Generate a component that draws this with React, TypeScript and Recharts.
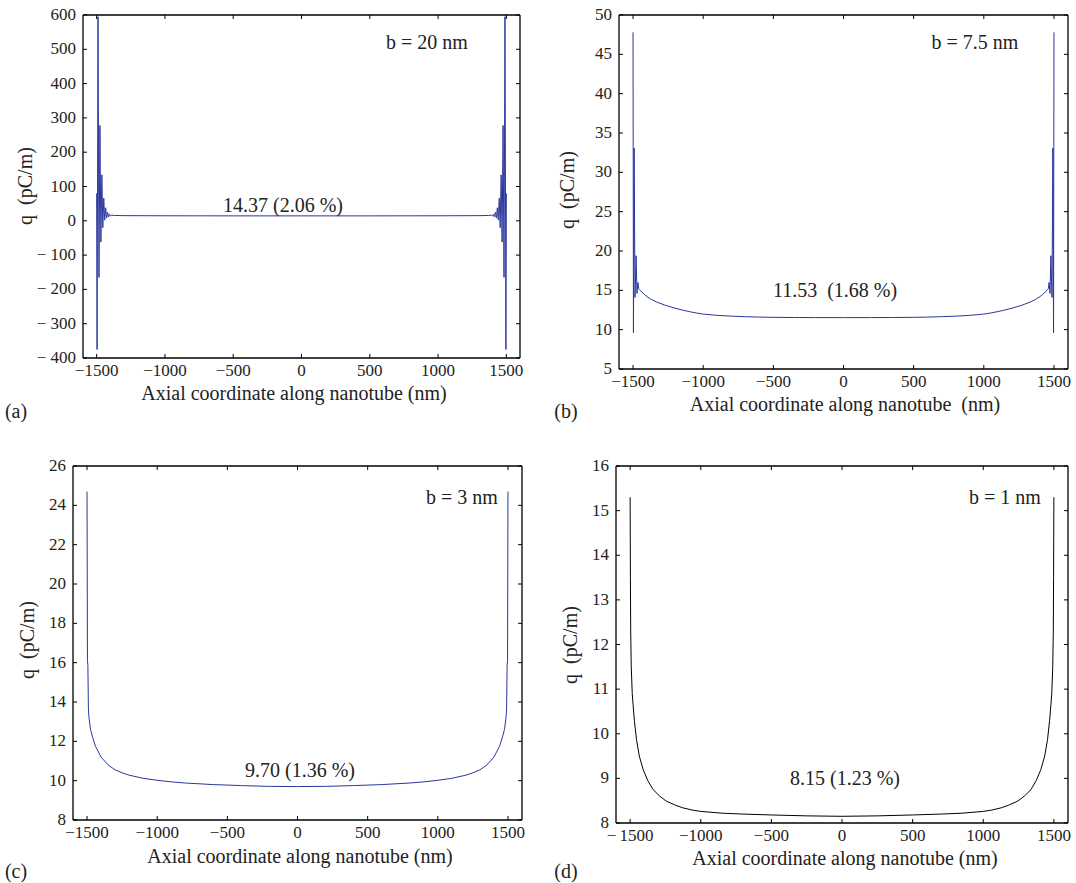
import React from "react";
import { LineChart, Line, XAxis, YAxis } from "recharts";

// shared x ticks (nm)
const xTicks = [-1500, -1000, -500, 0, 500, 1000, 1500];
const xTickLabels = ["−1500", "−1000", "−500", "0", "500", "1000", "1500"];
const xTickLabelsD = ["−\u20091500", "−1000", "−500", "0", "500", "1000", "1500"];

// (a) b = 20 nm
const aX = [-1500, -1497, -1490, -1483, -1476, -1469, -1462, -1455, -1448, -1441, -1434, -1427, -1420, -1413, -1406, -1399, -1390, -1370, -1300, -1000, -500, 0, 500, 1000, 1300, 1370, 1390, 1399, 1406, 1413, 1420, 1427, 1434, 1441, 1448, 1455, 1462, 1469, 1476, 1483, 1490, 1497, 1500];
const aQ = [80, -375, 595, -165, 278, -62, 134, -20, 66, 2, 38, 8, 25, 11, 19, 14, 16.5, 15.5, 15, 14.6, 14.4, 14.37, 14.4, 14.6, 15, 15.5, 16.5, 14, 19, 11, 25, 8, 38, 2, 66, -20, 134, -62, 278, -165, 595, -375, 80];
const aYTicks = [-400, -300, -200, -100, 0, 100, 200, 300, 400, 500, 600];
const aYLabels = ["− 400", "− 300", "− 200", "− 100", "0", "100", "200", "300", "400", "500", "600"];

// (b) b = 7.5 nm
const bX = [-1500, -1497, -1492, -1486, -1478, -1472, -1465, -1460, -1450, -1420, -1400, -1370, -1330, -1270, -1215, -1150, -1100, -1050, -1000, -900, -800, -700, -600, -500, -350, -200, 0, 200, 350, 500, 600, 700, 800, 900, 1000, 1050, 1100, 1150, 1215, 1270, 1330, 1370, 1400, 1420, 1450, 1460, 1465, 1472, 1478, 1486, 1492, 1497, 1500];
const bQ = [47.8, 9.6, 33.1, 14.1, 19.4, 14.6, 16.0, 15.2, 15.0, 14.5, 14.2, 13.85, 13.5, 13.1, 12.8, 12.5, 12.3, 12.12, 11.98, 11.82, 11.72, 11.65, 11.6, 11.57, 11.545, 11.535, 11.53, 11.535, 11.545, 11.57, 11.6, 11.65, 11.72, 11.82, 11.98, 12.12, 12.3, 12.5, 12.8, 13.1, 13.5, 13.85, 14.2, 14.5, 15.0, 15.2, 16.0, 14.6, 19.4, 14.1, 33.1, 9.6, 47.8];
const bYTicks = [5, 10, 15, 20, 25, 30, 35, 40, 45, 50];
const bYLabels = ["5", "10", "15", "20", "25", "30", "35", "40", "45", "50"];

// (c) b = 3 nm
const cX = [-1500, -1497, -1494, -1490, -1486, -1475, -1460, -1440, -1400, -1350, -1300, -1250, -1200, -1100, -1000, -900, -800, -600, -400, -200, 0, 200, 400, 600, 800, 900, 1000, 1100, 1200, 1250, 1300, 1350, 1400, 1440, 1460, 1475, 1486, 1490, 1494, 1497, 1500];
const cQ = [24.7, 16.1, 15.9, 13.6, 13.2, 12.6, 12.2, 11.75, 11.2, 10.8, 10.55, 10.4, 10.28, 10.12, 10.02, 9.94, 9.88, 9.8, 9.75, 9.71, 9.7, 9.71, 9.75, 9.8, 9.88, 9.94, 10.02, 10.12, 10.28, 10.4, 10.55, 10.8, 11.2, 11.75, 12.2, 12.6, 13.2, 13.6, 15.9, 16.1, 24.7];
const cYTicks = [8, 10, 12, 14, 16, 18, 20, 22, 24, 26];
const cYLabels = ["8", "10", "12", "14", "16", "18", "20", "22", "24", "26"];

// (d) b = 1 nm
const dX = [-1500, -1498, -1496, -1492, -1485, -1479, -1470, -1455, -1435, -1408, -1375, -1338, -1290, -1244, -1180, -1127, -1060, -1000, -850, -700, -500, -250, 0, 250, 500, 700, 850, 1000, 1060, 1127, 1180, 1244, 1290, 1338, 1375, 1408, 1435, 1455, 1470, 1479, 1485, 1492, 1496, 1498, 1500];
const dQ = [15.3, 13.5, 12.3, 11.5, 10.9, 10.65, 10.3, 9.87, 9.5, 9.2, 8.95, 8.75, 8.6, 8.49, 8.4, 8.34, 8.29, 8.26, 8.22, 8.2, 8.18, 8.16, 8.15, 8.16, 8.18, 8.2, 8.22, 8.26, 8.29, 8.34, 8.4, 8.49, 8.6, 8.75, 8.95, 9.2, 9.5, 9.87, 10.3, 10.65, 10.9, 11.5, 12.3, 13.5, 15.3];
const dYTicks = [8, 9, 10, 11, 12, 13, 14, 15, 16];
const dYLabels = ["8", "9", "10", "11", "12", "13", "14", "15", "16"];

const FONT = "'Liberation Serif', 'Times New Roman', serif";
const INK = "#222";
const BLUE = "#2b379c";
const TICK = 4;
const TICK_FONT = 17;
const axisStyle = { stroke: "#000", strokeWidth: 1.3 };

const panels = [
  { box: { l: 83, t: 15, r: 520, b: 358 }, xs: aX, qs: aQ, yTicks: aYTicks, yLabels: aYLabels, xLabels: xTickLabels, color: BLUE },
  { box: { l: 619, t: 15, r: 1068, b: 369 }, xs: bX, qs: bQ, yTicks: bYTicks, yLabels: bYLabels, xLabels: xTickLabels, color: BLUE },
  { box: { l: 73, t: 466, r: 522, b: 820 }, xs: cX, qs: cQ, yTicks: cYTicks, yLabels: cYLabels, xLabels: xTickLabels, color: BLUE },
  { box: { l: 616, t: 466, r: 1068, b: 823 }, xs: dX, qs: dQ, yTicks: dYTicks, yLabels: dYLabels, xLabels: xTickLabelsD, color: "#000" },
];

const texts = [
  { x: 25, y: 186, s: "q  (pC/m)", rot: true },
  { x: 294, y: 393, s: "Axial coordinate along nanotube (nm)" },
  { x: 16, y: 411, s: "(a)" },
  { x: 427, y: 42, s: "b = 20 nm" },
  { x: 283, y: 205, s: "14.37 (2.06 %)" },
  { x: 567, y: 190, s: "q  (pC/m)", rot: true },
  { x: 845, y: 404, s: "Axial coordinate along nanotube  (nm)" },
  { x: 566, y: 411, s: "(b)" },
  { x: 975, y: 42, s: "b = 7.5 nm" },
  { x: 835, y: 290, s: "11.53  (1.68 %)" },
  { x: 27, y: 640, s: "q  (pC/m)", rot: true },
  { x: 300, y: 856, s: "Axial coordinate along nanotube (nm)" },
  { x: 16, y: 871, s: "(c)" },
  { x: 462, y: 497, s: "b = 3 nm" },
  { x: 300, y: 770, s: "9.70 (1.36 %)" },
  { x: 570, y: 645, s: "q  (pC/m)", rot: true },
  { x: 845, y: 858, s: "Axial coordinate along nanotube (nm)" },
  { x: 566, y: 871, s: "(d)" },
  { x: 1005, y: 497, s: "b = 1 nm" },
  { x: 845, y: 778, s: "8.15 (1.23 %)" },
];

function labelFor(ticks: number[], labels: string[], v: number) {
  const i = ticks.indexOf(v);
  return i >= 0 ? labels[i] : String(v);
}

function Panel({ box, xs, qs, yTicks, yLabels, xLabels, color }: any) {
  const data = xs.map((x: number, i: number) => ({ x, q: qs[i] }));
  const padL = 80, padT = 15, padR = 20, padB = 40;
  const W = box.r - box.l + padL + padR;
  const H = box.b - box.t + padT + padB;
  const yDomain = [yTicks[0], yTicks[yTicks.length - 1]];

  const bottomTick = (p: any) => (
    <g>
      <line x1={p.x} x2={p.x} y1={p.y} y2={p.y - TICK} stroke="#000" />
      <text x={p.x} y={p.y + 18} textAnchor="middle" fontFamily={FONT} fontSize={TICK_FONT} fill={INK}>
        {labelFor(xTicks, xLabels, p.payload.value)}
      </text>
    </g>
  );
  const topTick = (p: any) => <line x1={p.x} x2={p.x} y1={p.y} y2={p.y + TICK} stroke="#000" />;
  const leftTick = (p: any) => (
    <g>
      <line x1={p.x} x2={p.x + TICK} y1={p.y} y2={p.y} stroke="#000" />
      <text x={p.x - 7} y={p.y + 5} textAnchor="end" fontFamily={FONT} fontSize={TICK_FONT} fill={INK}>
        {labelFor(yTicks, yLabels, p.payload.value)}
      </text>
    </g>
  );
  const rightTick = (p: any) => <line x1={p.x} x2={p.x - TICK} y1={p.y} y2={p.y} stroke="#000" />;

  return (
    <div style={{ position: "absolute", left: box.l - padL, top: box.t - padT }}>
      <LineChart
        width={W}
        height={H}
        data={data}
        margin={{ top: padT - 10, right: padR - 10, bottom: padB - 30, left: padL - 40 }}
      >
        <XAxis dataKey="x" type="number" domain={[-1600, 1600]} allowDataOverflow ticks={xTicks} interval={0}
          tickSize={0} tickMargin={0} tickLine={false} axisLine={axisStyle} height={30} tick={bottomTick} />
        <XAxis xAxisId="top" orientation="top" dataKey="x" type="number" domain={[-1600, 1600]} allowDataOverflow ticks={xTicks} interval={0}
          tickSize={0} tickMargin={0} tickLine={false} axisLine={axisStyle} height={10} tick={topTick} />
        <YAxis type="number" domain={yDomain} allowDataOverflow ticks={yTicks} interval={0}
          tickSize={0} tickMargin={0} tickLine={false} axisLine={axisStyle} width={40} tick={leftTick} />
        <YAxis yAxisId="right" orientation="right" type="number" domain={yDomain} allowDataOverflow ticks={yTicks} interval={0}
          tickSize={0} tickMargin={0} tickLine={false} axisLine={axisStyle} width={10} tick={rightTick} />
        <Line type="linear" dataKey="q" stroke={color} strokeWidth={1} dot={false} activeDot={false} isAnimationActive={false} />
      </LineChart>
    </div>
  );
}

export default function App() {
  return (
    <div style={{ position: "absolute", left: 0, top: 0, width: 1076, height: 883, background: "#fff" }}>
      {panels.map((p, i) => (
        <Panel key={i} {...p} />
      ))}
      {texts.map((t, i) => (
        <div
          key={i}
          style={{
            position: "absolute",
            left: t.x,
            top: t.y,
            transform: `translate(-50%, -50%)${t.rot ? " rotate(-90deg)" : ""}`,
            whiteSpace: "pre",
            fontFamily: FONT,
            fontSize: 20,
            lineHeight: 1,
            color: INK,
          }}
        >
          {t.s}
        </div>
      ))}
    </div>
  );
}
